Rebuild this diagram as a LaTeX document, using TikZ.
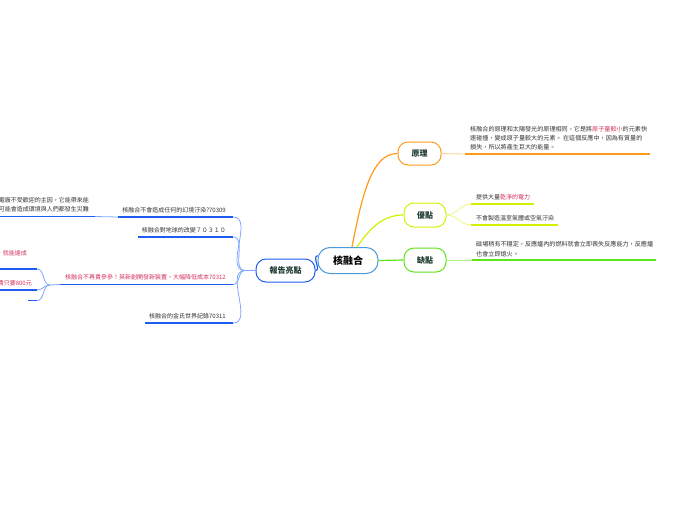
\documentclass[tikz,border=0pt]{standalone}
\usepackage{fontspec}
\setmainfont{Noto Sans CJK TC}
\usetikzlibrary{positioning}

\definecolor{corecol}{HTML}{4A9BDC}
\definecolor{reportcol}{HTML}{1F5CF0}
\definecolor{reportlite}{HTML}{7EA6FF}
\definecolor{principlecol}{HTML}{FF9A1A}
\definecolor{principlelite}{HTML}{FFCB8F}
\definecolor{meritcol}{HTML}{D4F000}
\definecolor{meritlite}{HTML}{E8F880}
\definecolor{flawcol}{HTML}{5EE619}
\definecolor{flawlite}{HTML}{A6F27C}
\definecolor{inkred}{HTML}{D2305A}
\definecolor{ink}{HTML}{333333}
\definecolor{topicink}{HTML}{1E3B2E}

\tikzset{
	topic/.style={draw, line width=1pt, rounded corners=10pt, fill=white, text=topicink,
		minimum width=43pt, minimum height=23pt, font=\fontsize{8}{10}\selectfont\bfseries},
	leaf/.style={inner sep=0pt, align=left, text=ink, font=\fontsize{6}{9.5}\selectfont},
	stem/.style={line width=1.6pt},
	twig/.style={line width=0.8pt},
}

\begin{document}
\begin{tikzpicture}[x=1pt,y=-1pt]
	\useasboundingbox (0,0) rectangle (697,520);

	% topics
	\node[topic, draw=corecol, minimum width=60pt, minimum height=26pt, rounded corners=12pt, text=black,
		font=\fontsize{10}{12}\selectfont\bfseries] (core) at (348,260.5) {核融合};
	\node[topic, draw=principlecol] (principle) at (419.5,153.5) {原理};
	\node[topic, draw=meritcol, minimum width=42pt, minimum height=24pt] (merit) at (425,215) {優點};
	\node[topic, draw=flawcol, minimum width=42pt, minimum height=24pt] (flaw) at (425,260) {缺點};
	\node[topic, draw=reportcol, minimum width=59pt] (report) at (285.5,270.5) {報告亮點};

	\draw[principlecol, line width=1.2pt] ([xshift=4pt]core.north) .. controls (362,195) and (372,153) .. (principle.west);
	\draw[meritcol, line width=1.2pt] ([xshift=9pt]core.north) .. controls (372,225) and (385,215) .. (merit.west);
	\draw[flawcol, line width=1.2pt] (core.east) -- (flaw.west);
	\draw[reportcol, line width=1.2pt] (report.east) to[out=0,in=200] ([yshift=5pt]core.west);

	% 原理
	\coordinate (principlebar) at (465,154);
	\coordinate (principleend) at (650,154);
	\draw[principlelite, twig] (principle.east) -- (principlebar);
	\draw[principlecol, stem] (principlebar) -- (principleend);
	\node[leaf, anchor=south west, font=\fontsize{6.1}{9}\selectfont] (principletext) at (470,150)
		{核融合的原理和太陽發光的原理相同，它是將\textcolor{inkred}{原子量較小}的元素快\\
		速碰撞，變成原子量較大的元素。 在這個反應中，因為有質量的\\
		損失，所以將產生巨大的能量。};

	% 優點
	\coordinate (meritup) at (471,204);
	\coordinate (meritupend) at (534,204);
	\coordinate (meritdown) at (471,225);
	\coordinate (meritdownend) at (558,225);
	\draw[meritlite, twig] (merit.east) to[out=0,in=180] (meritup);
	\draw[meritlite, twig] (merit.east) to[out=0,in=180] (meritdown);
	\draw[meritcol, stem] (meritup) -- (meritupend);
	\draw[meritcol, stem] (meritdown) -- (meritdownend);
	\node[leaf, anchor=south west] (clean) at (476,200) {提供大量\textcolor{inkred}{乾淨的電力}};
	\node[leaf, anchor=south west] (nogas) at (476,221) {不會製造溫室氣體或空氣汙染};

	% 缺點
	\coordinate (flawbar) at (472,260);
	\coordinate (flawend) at (656,260);
	\draw[flawlite, twig] (flaw.east) -- (flawbar);
	\draw[flawcol, stem] (flawbar) -- (flawend);
	\node[leaf, anchor=south west, font=\fontsize{6.1}{9.5}\selectfont] (flawtext) at (476,257)
		{磁場稍有不穩定，反應爐內的燃料就會立即喪失反應能力，反應爐\\
		也會立即熄火。};

	% 報告亮點
	\coordinate (reporthub) at (245,270.5);
	\coordinate (pollution) at (233,217);
	\coordinate (pollutionend) at (118,217);
	\coordinate (earth) at (233,237);
	\coordinate (earthend) at (138,237);
	\coordinate (cost) at (233,284.5);
	\coordinate (costend) at (60,284.5);
	\coordinate (record) at (233,323);
	\coordinate (recordend) at (145,323);
	\draw[reportlite, twig] (report.west) -- (reporthub);
	\foreach \leafend in {pollution,earth,cost,record}
		\draw[reportlite, twig] (reporthub) to[out=180,in=0] (\leafend);
	\draw[reportcol, stem] (pollution) -- (pollutionend);
	\draw[reportcol, stem] (earth) -- (earthend);
	\draw[reportcol, stem] (cost) -- (costend);
	\draw[reportcol, stem] (record) -- (recordend);
	\node[leaf, anchor=south east] (pollutiontext) at (226,213) {核融合不會造成任何的幻境汙染?70309};
	\node[leaf, anchor=south east] (earthtext) at (226,233) {核融合對地球的改變７０３１０};
	\node[leaf, anchor=south east, text=inkred] (costtext) at (226,280.5) {核融合不再貴參參！英新創開發新裝置，大幅降低成本70312};
	\node[leaf, anchor=south east] (recordtext) at (226,319) {核融合的金氏世界紀錄70311};

	% beyond the left edge
	\coordinate (fearbar) at (95,216.5);
	\coordinate (fearend) at (-5,216.5);
	\draw[reportlite, twig] (pollutionend) -- (fearbar);
	\draw[reportcol, stem] (fearbar) -- (fearend);
	\node[leaf, anchor=south east, align=right] (feartext) at (89,212.5)
		{電廠不受歡迎的主因，它能帶來能\\可能會造成環境與人們都發生災難};

	\coordinate (costhub) at (50,285);
	\coordinate (reach) at (37,269);
	\coordinate (reachend) at (-5,269);
	\coordinate (bill) at (37,290);
	\coordinate (billend) at (-5,290);
	\coordinate (blank) at (37,300.5);
	\coordinate (blankend) at (28,300.5);
	\draw[reportlite, twig] (costend) -- (costhub);
	\foreach \leafend in {reach,bill,blank}
		\draw[reportlite, twig] (costhub) to[out=180,in=0] (\leafend);
	\draw[reportcol, stem] (reach) -- (reachend);
	\draw[reportcol, stem] (bill) -- (billend);
	\draw[reportcol, stem] (blank) -- (blankend);
	\node[leaf, anchor=south east, text=inkred] (reachtext) at (27,256) {，就能達成};
	\node[leaf, anchor=south east, text=inkred] (billtext) at (32,286) {費只要800元};
\end{tikzpicture}
\end{document}
